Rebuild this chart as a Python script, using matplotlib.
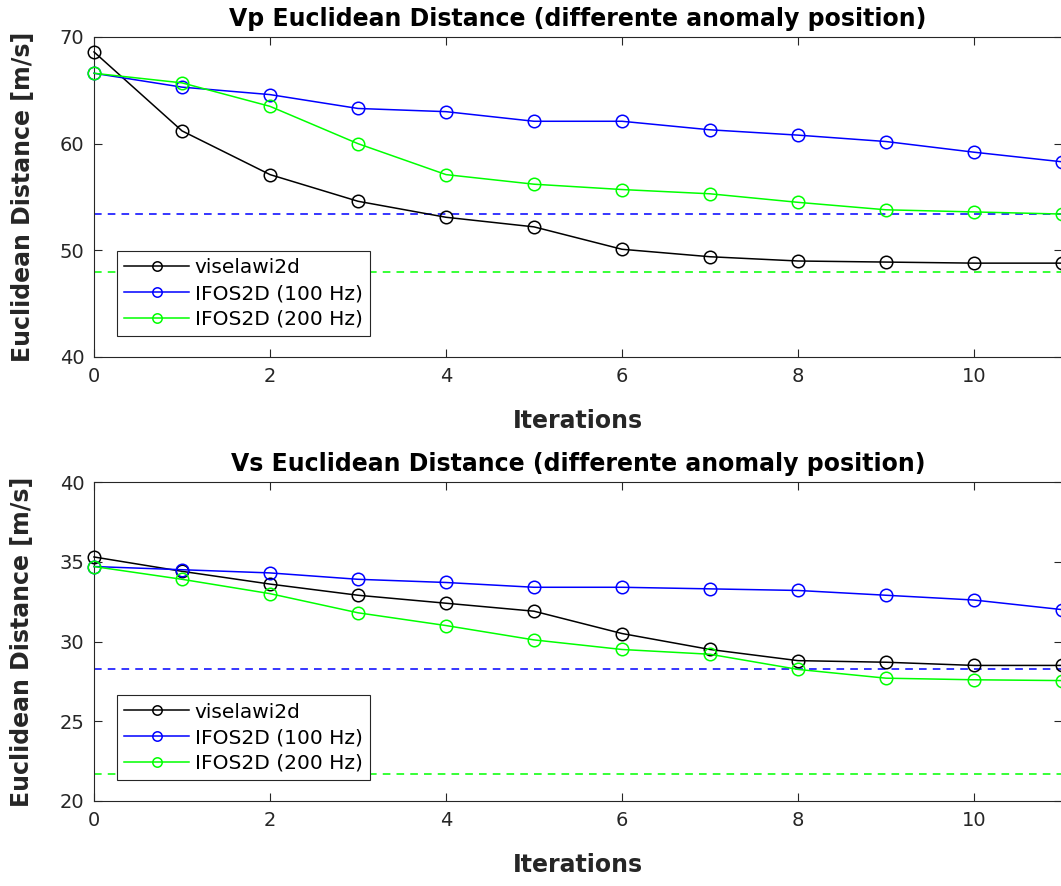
import matplotlib
matplotlib.use("Agg")
import matplotlib.pyplot as plt

iterations = list(range(12))

# Vp panel
vp_visel = [68.6, 61.2, 57.1, 54.6, 53.1, 52.2, 50.1, 49.4, 49.0, 48.9, 48.8, 48.8]
vp_ifos100 = [66.6, 65.3, 64.6, 63.3, 63.0, 62.1, 62.1, 61.3, 60.8, 60.2, 59.2, 58.3]
vp_ifos200 = [66.6, 65.7, 63.5, 60.0, 57.1, 56.2, 55.7, 55.3, 54.5, 53.8, 53.6, 53.4]
vp_ref100 = 53.4
vp_ref200 = 48.0

# Vs panel
vs_visel = [35.3, 34.4, 33.6, 32.9, 32.4, 31.9, 30.5, 29.5, 28.8, 28.7, 28.5, 28.5]
vs_ifos100 = [34.7, 34.5, 34.3, 33.9, 33.7, 33.4, 33.4, 33.3, 33.2, 32.9, 32.6, 32.0]
vs_ifos200 = [34.7, 33.9, 33.0, 31.8, 31.0, 30.1, 29.5, 29.2, 28.25, 27.7, 27.6, 27.55]
vs_ref100 = 28.25
vs_ref200 = 21.7

labels = ["viselawi2d", "IFOS2D (100 Hz)", "IFOS2D (200 Hz)"]
colors = ["black", "#0000ff", "#00ff00"]

plt.rcParams['font.family'] = ['DejaVu Sans']

fig = plt.figure(figsize=(10.61, 8.86), dpi=100)
W, H = 1061.0, 886.0
ax1 = fig.add_axes([94 / W, 1 - 357 / H, (1062 - 94) / W, (357 - 37) / H])
ax2 = fig.add_axes([94 / W, 1 - 801 / H, (1062 - 94) / W, (801 - 482) / H])

panels = [
    (ax1, [vp_visel, vp_ifos100, vp_ifos200], vp_ref100, vp_ref200, (40, 70), [40, 50, 60, 70],
     "Vp Euclidean Distance (differente anomaly position)"),
    (ax2, [vs_visel, vs_ifos100, vs_ifos200], vs_ref100, vs_ref200, (20, 40), [20, 25, 30, 35, 40],
     "Vs Euclidean Distance (differente anomaly position)"),
]

for ax, series, r100, r200, ylim, yticks, title in panels:
    for s, c, lab in zip(series, colors, labels):
        ax.plot(iterations, s, color=c, lw=1.1, marker='o', markersize=9,
                markerfacecolor='none', markeredgewidth=1.1, label=lab, clip_on=False, zorder=3)
    ax.axhline(r100, color=colors[1], ls=(0, (5, 4)), lw=1.1)
    ax.axhline(r200, color=colors[2], ls=(0, (5, 4)), lw=1.1)
    ax.set_xlim(0, 11)
    ax.set_ylim(*ylim)
    ax.set_xticks([0, 2, 4, 6, 8, 10])
    ax.set_yticks(yticks)
    ax.tick_params(direction='in', top=True, right=True, length=6, width=0.8,
                   labelsize=14, colors='#262626', pad=7)
    for sp in ax.spines.values():
        sp.set_color('#262626')
        sp.set_linewidth(0.8)
    ax.set_title(title, fontsize=17, fontweight='bold', pad=8)
    ax.set_xlabel("Iterations", fontsize=17, fontweight='bold', color='#262626', labelpad=17)
    ax.set_ylabel("Euclidean Distance [m/s]", fontsize=17, fontweight='bold', color='#262626', labelpad=18)
    leg = ax.legend(loc='lower left', bbox_to_anchor=(0.022, 0.06), fontsize=14.5,
                    fancybox=False, framealpha=1, edgecolor='#262626', handlelength=3.2,
                    borderpad=0.35, labelspacing=0.33, handletextpad=0.3, markerscale=0.75,
                    borderaxespad=0.1)
    leg.get_frame().set_linewidth(0.8)

fig.savefig("out.png", dpi=100)
